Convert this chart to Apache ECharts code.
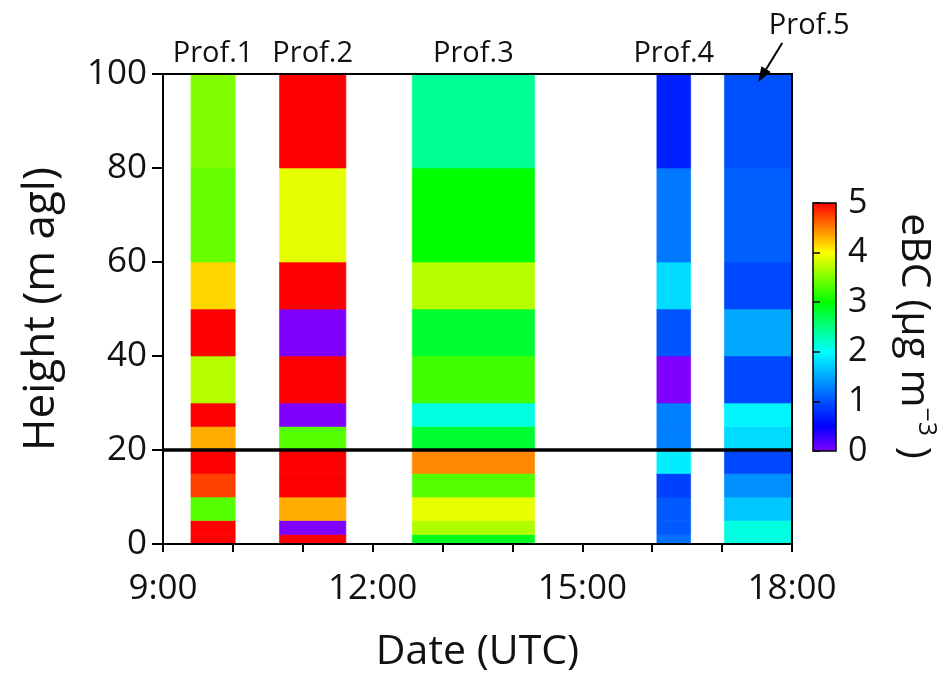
<!DOCTYPE html>
<html>
<head>
<meta charset="utf-8">
<script src="https://cdn.jsdelivr.net/npm/echarts@6/dist/echarts.min.js"></script>
<style>
  html, body { margin: 0; padding: 0; background: #fff; }
  #chart { width: 952px; height: 678px; }
</style>
</head>
<body>
<div id="chart"></div>
<script>
// profile flights (UTC start/end)
const profileNames = ['Prof.1', 'Prof.2', 'Prof.3', 'Prof.4', 'Prof.5'];
const profileStart = ['09:24', '10:40', '12:34', '16:04', '17:02'];
const profileEnd = ['10:02', '11:37', '14:19', '16:33', '18:00'];

// layer edges in m agl, shared by all profiles
const heightEdges = [0, 2, 5, 10, 15, 20, 25, 30, 40, 50, 60, 80, 100];

// eBC (ug m-3) per layer, bottom to top
const prof1 = [5.0, 5.0, 3.33, 4.75, 5.0, 4.33, 5.0, 3.71, 5.0, 4.16, 3.4, 3.5];
const prof2 = [5.0, 0.0, 4.33, 5.0, 5.0, 3.33, 0.0, 5.0, 0.0, 5.0, 3.9, 5.0];
const prof3 = [2.88, 3.69, 3.91, 3.33, 4.47, 2.81, 2.12, 3.25, 2.81, 3.71, 3.0, 2.41];
const prof4 = [1.18, 1.05, 1.05, 0.9, 1.9, 1.27, 1.27, 0.0, 1.03, 1.8, 1.23, 0.7];
const prof5 = [2.12, 2.12, 1.68, 1.36, 0.95, 1.8, 1.94, 0.95, 1.5, 0.95, 1.09, 1.0];
const profileValues = [prof1, prof2, prof3, prof4, prof5];

const refHeight = 20;
const timeMin = 9;
const timeMax = 18;
const cbarMin = 0;
const cbarMax = 5;
const cbarColors = ['#8000ff', '#0000ff', '#0050ff', '#00a8ff', '#00ffff', '#00ff80',
  '#00ff00', '#80ff00', '#ffff00', '#ff8000', '#ff0000'];

const FONT = "'Open Sans', 'DejaVu Sans', sans-serif";

function toHour(s) {
  const [h, m] = s.split(':');
  return Number(h) + Number(m) / 60;
}

const cells = [];
profileValues.forEach((vals, i) => {
  const t0 = toHour(profileStart[i]);
  const t1 = toHour(profileEnd[i]);
  vals.forEach((v, k) => cells.push([t0, t1, heightEdges[k], heightEdges[k + 1], v]));
});
const labelPoints = profileNames.map((n, i) =>
  [(toHour(profileStart[i]) + toHour(profileEnd[i])) / 2, heightEdges[heightEdges.length - 1]]);

function renderCell(params, api) {
  const p0 = api.coord([api.value(0), api.value(3)]);
  const p1 = api.coord([api.value(1), api.value(2)]);
  const c = api.visual('color');
  return {
    type: 'rect',
    shape: { x: p0[0], y: p0[1], width: p1[0] - p0[0], height: p1[1] - p0[1] },
    style: { fill: c, stroke: c, lineWidth: 0.6 }
  };
}

function renderLabel(params, api) {
  const p = api.coord([api.value(0), api.value(1)]);
  const name = profileNames[params.dataIndex];
  const textStyle = { text: name, fontSize: 29, fontFamily: FONT, fill: '#111', align: 'center', verticalAlign: 'middle' };
  if (params.dataIndex < profileNames.length - 1) {
    return { type: 'text', x: p[0], y: p[1] - 20, style: textStyle };
  }
  // last profile: label off to the side with an arrow
  const tip = [p[0], p[1] + 8];
  const tail = [p[0] + 24, p[1] - 31];
  const dx = tip[0] - tail[0], dy = tip[1] - tail[1];
  const len = Math.sqrt(dx * dx + dy * dy);
  const ux = dx / len, uy = dy / len;
  const base = [tip[0] - ux * 15, tip[1] - uy * 15];
  const nx = -uy * 5.5, ny = ux * 5.5;
  return {
    type: 'group',
    children: [
      { type: 'text', x: p[0] + 51, y: p[1] - 48, style: textStyle },
      { type: 'line', shape: { x1: tail[0], y1: tail[1], x2: base[0], y2: base[1] }, style: { stroke: '#000', lineWidth: 2 } },
      { type: 'polygon', shape: { points: [tip, [base[0] + nx, base[1] + ny], [base[0] - nx, base[1] - ny]] }, style: { fill: '#000' } }
    ]
  };
}

const chart = echarts.init(document.getElementById('chart'), null, { renderer: 'canvas' });

chart.setOption({
  animation: false,
  backgroundColor: '#fff',
  textStyle: { fontFamily: FONT },
  grid: [
    { left: 163, top: 74, width: 629, height: 471, show: true, z: 5,
      backgroundColor: 'transparent', borderColor: '#000', borderWidth: 2 },
    { left: 813, top: 203, width: 23, height: 248, show: true, z: 10,
      backgroundColor: 'transparent', borderColor: '#000', borderWidth: 1.5 }
  ],
  xAxis: [
    {
      gridIndex: 0, type: 'value', min: timeMin, max: timeMax, interval: 1, z: 6,
      name: 'Date (UTC)', nameLocation: 'middle', nameGap: 88,
      nameTextStyle: { fontSize: 41, color: '#111', fontFamily: FONT },
      axisLine: { lineStyle: { color: '#000', width: 2 } },
      axisTick: { length: 8, lineStyle: { color: '#000', width: 2 } },
      axisLabel: {
        fontSize: 35, color: '#111', margin: 28, fontFamily: FONT,
        formatter: v => (v % 3 === 0 ? v + ':00' : '')
      },
      splitLine: { show: false }
    },
    { gridIndex: 1, type: 'value', min: 0, max: 1, show: false }
  ],
  yAxis: [
    {
      gridIndex: 0, type: 'value', min: 0, max: 100, interval: 20, z: 6,
      name: 'Height (m agl)', nameLocation: 'middle', nameGap: 100,
      nameTextStyle: { fontSize: 44, color: '#111', fontFamily: FONT },
      axisLine: { lineStyle: { color: '#000', width: 2 } },
      axisTick: { length: 11, lineStyle: { color: '#000', width: 2 } },
      axisLabel: { fontSize: 35, color: '#111', margin: 16, fontFamily: FONT },
      splitLine: { show: false }
    },
    {
      gridIndex: 1, type: 'value', min: cbarMin, max: cbarMax, interval: 1, position: 'right', z: 11,
      axisLine: { show: false },
      axisTick: { length: 7, lineStyle: { color: '#000', width: 1.5 } },
      axisLabel: { fontSize: 34, color: '#111', margin: 12, fontFamily: FONT },
      splitLine: { show: false }
    }
  ],
  visualMap: {
    type: 'continuous', min: cbarMin, max: cbarMax, dimension: 4, seriesIndex: 0,
    orient: 'vertical', left: 813, top: 203, itemWidth: 23, itemHeight: 248,
    padding: 0, calculable: false, hoverLink: false, text: null,
    inRange: { color: cbarColors }
  },
  graphic: [
    {
      type: 'text', x: 916, y: 336, rotation: -Math.PI / 2,
      style: {
        text: '{a|eBC (µg m}{s|−3}{a| )}',
        align: 'center', verticalAlign: 'middle', fill: '#111',
        rich: {
          a: { fontSize: 41, fontFamily: FONT, fill: '#111', lineHeight: 46, verticalAlign: 'bottom' },
          s: { fontSize: 25, fontFamily: FONT, fill: '#111', lineHeight: 46, verticalAlign: 'top' }
        }
      }
    }
  ],
  series: [
    {
      type: 'custom', xAxisIndex: 0, yAxisIndex: 0,
      renderItem: renderCell,
      encode: { x: [0, 1], y: [2, 3] },
      data: cells,
      markLine: {
        silent: true, symbol: 'none', label: { show: false },
        lineStyle: { color: '#000', width: 3.5, type: 'solid' },
        data: [{ yAxis: refHeight }]
      }
    },
    {
      type: 'custom', xAxisIndex: 0, yAxisIndex: 0, z: 8,
      renderItem: renderLabel,
      encode: { x: 0, y: 1 },
      clip: false,
      data: labelPoints
    }
  ]
});
</script>
</body>
</html>
